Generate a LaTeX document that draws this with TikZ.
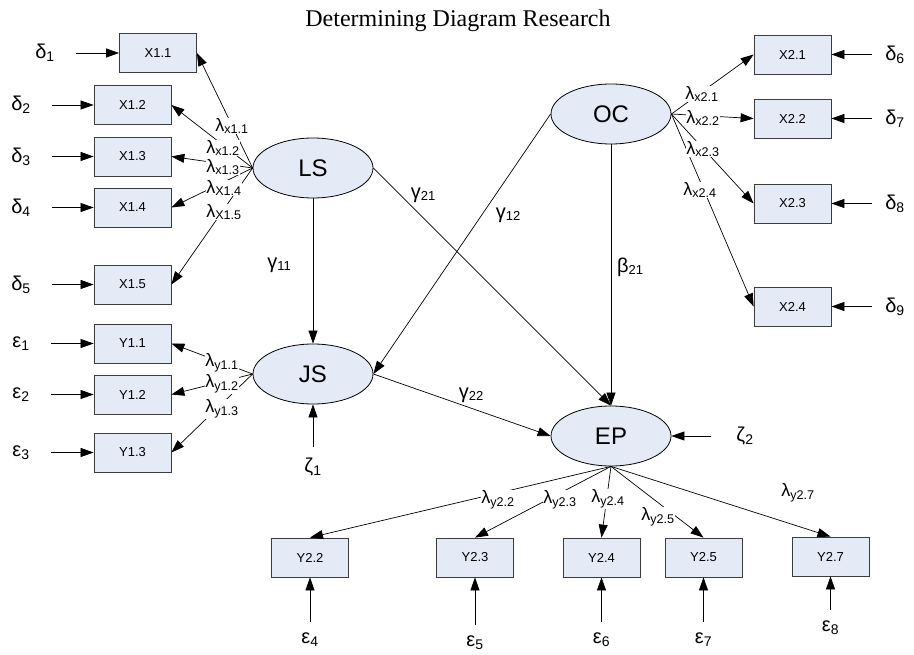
\documentclass[tikz,border=0pt]{standalone}
\usepackage{fontspec}
\setmainfont{Liberation Sans}
\newfontfamily\titlefont{Liberation Serif}
\usetikzlibrary{shapes.geometric,arrows.meta}
\definecolor{boxfill}{RGB}{228,234,246}
\definecolor{boxline}{RGB}{60,60,60}
\newcommand\sbx[1]{\textsubscript{#1}}
\newcommand\sbc[1]{\raisebox{-0.25ex}{\fontsize{13}{13}\selectfont #1}}
\begin{document}
\begin{tikzpicture}[x=1pt,y=-1pt,
  lat/.style={ellipse, draw=black, line width=0.8pt, fill=boxfill, minimum width=120pt, minimum height=60pt, inner sep=0pt, font=\fontsize{24}{24}\selectfont},
  obs/.style={rectangle, draw=boxline, line width=0.8pt, fill=boxfill, minimum width=77pt, minimum height=39pt, inner sep=0pt, font=\fontsize{13}{13}\selectfont},
  err/.style={font=\fontsize{20}{20}\selectfont, inner sep=1pt},
  lam/.style={font=\fontsize{18}{18}\selectfont, inner sep=0.3pt, fill=white},
  coef/.style={font=\fontsize{20}{20}\selectfont, inner sep=1pt},
  arr/.style={-{Triangle[length=13pt,width=9pt]}, line width=0.7pt},
  larr/.style={arr, shorten <=20pt},
  rarr/.style={arr, shorten <=12pt},
  barr/.style={arr, shorten <=10pt}]
\useasboundingbox (0,0) rectangle (914,655);

% title
\node[anchor=base, font=\titlefont\fontsize{24}{24}\selectfont, inner sep=0pt] (title) at (458,27) {Determining Diagram Research};

% latent variables
\node[lat] (LS) at (313,168) {LS};
\node[lat] (OC) at (611,114) {OC};
\node[lat] (JS) at (313,374) {JS};
\node[lat] (EP) at (611,436) {EP};

% observed (left)
\node[obs] (x11) at (158,53) {X1.1};
\node[obs] (x12) at (132.5,105) {X1.2};
\node[obs] (x13) at (132.5,156.5) {X1.3};
\node[obs] (x14) at (132.5,207.5) {X1.4};
\node[obs] (x15) at (132.5,284.5) {X1.5};
\node[obs] (y11) at (132.5,343.5) {Y1.1};
\node[obs] (y12) at (132.5,394.5) {Y1.2};
\node[obs] (y13) at (132.5,452.5) {Y1.3};

% observed (right)
\node[obs] (x21) at (792.5,54.5) {X2.1};
\node[obs] (x22) at (792.5,118.5) {X2.2};
\node[obs] (x23) at (792.5,203.5) {X2.3};
\node[obs] (x24) at (792.5,306.5) {X2.4};

% observed (bottom)
\node[obs] (y22) at (310,557.5) {Y2.2};
\node[obs] (y23) at (475,557.5) {Y2.3};
\node[obs] (y24) at (601.5,557.5) {Y2.4};
\node[obs] (y25) at (703.5,557.5) {Y2.5};
\node[obs] (y27) at (830.5,556.5) {Y2.7};

% error terms
\node[err] (d1) at (45,53) {δ\sbx{1}};
\node[err] (d2) at (21,105) {δ\sbx{2}};
\node[err] (d3) at (21,156.5) {δ\sbx{3}};
\node[err] (d4) at (21,207.5) {δ\sbx{4}};
\node[err] (d5) at (21,284.5) {δ\sbx{5}};
\node[err] (e1) at (21,343.5) {ε\sbx{1}};
\node[err] (e2) at (21,394.5) {ε\sbx{2}};
\node[err] (e3) at (21,452.5) {ε\sbx{3}};
\node[err] (d6) at (895,54.5) {δ\sbx{6}};
\node[err] (d7) at (895,118.5) {δ\sbx{7}};
\node[err] (d8) at (895,203.5) {δ\sbx{8}};
\node[err] (d9) at (895,306.5) {δ\sbx{9}};
\node[err] (e4) at (310,640) {ε\sbx{4}};
\node[err] (e5) at (475,643) {ε\sbx{5}};
\node[err] (e6) at (601.5,640) {ε\sbx{6}};
\node[err] (e7) at (703.5,640) {ε\sbx{7}};
\node[err] (e8) at (830.5,628) {ε\sbx{8}};
\node[err] (z1) at (313,467) {ζ\sbx{1}};
\node[err] (z2) at (745,436) {ζ\sbx{2}};

% error arrows
\foreach \a/\b in {d1/x11,d2/x12,d3/x13,d4/x14,d5/x15,e1/y11,e2/y12,e3/y13}
  \draw[larr] (\a) -- (\b);
\foreach \a/\b in {d6/x21,d7/x22,d8/x23,d9/x24}
  \draw[rarr] (\a) -- (\b);
\foreach \a/\b in {e4/y22,e5/y23,e6/y24,e7/y25,e8/y27,z1/JS}
  \draw[barr] (\a) -- (\b);
\draw[arr, shorten <=24pt] (z2) -- (EP);

% loadings
\foreach \b in {x11,x12,x13,x14,x15}
  \draw[arr] (LS.west) -- (\b.east);
\foreach \b in {y11,y12,y13}
  \draw[arr] (JS.west) -- (\b.east);
\foreach \b in {x21,x22,x23,x24}
  \draw[arr] (OC.east) -- (\b.west);
\foreach \b in {y22,y23,y24,y25,y27}
  \draw[arr] (EP.south) -- (\b.north);

% structural paths
\draw[arr] (LS.south) -- (JS.north);
\draw[arr] (LS.east) -- (EP.north);
\draw[arr] (OC.south) -- (EP.north);
\draw[arr] (OC.west) -- (JS.east);
\draw[arr] (JS.east) -- (EP.west);

% loading labels
\node[lam] (lx11) at (232,126) {λ\sbx{x1.1}};
\node[lam] (lx12) at (223,148) {λ\sbx{x1.2}};
\node[lam] (lx13) at (223,167) {λ\sbx{x1.3}};
\node[lam] (lx14) at (224,188) {λ\sbx{X1.4}};
\node[lam] (lx15) at (224,212) {λ\sbx{X1.5}};
\node[lam] (ly11) at (222,363) {λ\sbx{y1.1}};
\node[lam] (ly12) at (222,384) {λ\sbx{y1.2}};
\node[lam] (ly13) at (222,409) {λ\sbx{y1.3}};
\node[lam] (lx21) at (702,94) {λ\sbx{x2.1}};
\node[lam] (lx22) at (703,118) {λ\sbx{x2.2}};
\node[lam] (lx23) at (703,149) {λ\sbx{x2.3}};
\node[lam] (lx24) at (700,190) {λ\sbx{x2.4}};
\node[lam] (ly22) at (498,500) {λ\sbx{y2.2}};
\node[lam] (ly23) at (560,500) {λ\sbx{y2.3}};
\node[lam] (ly24) at (608,499) {λ\sbx{y2.4}};
\node[lam] (ly25) at (658,517) {λ\sbx{y2.5}};
\node[lam] (ly27) at (798,493) {λ\sbx{y2.7}};

% structural labels
\node[coef] (g11) at (279,265) {γ\sbc{11}};
\node[coef] (g21) at (423,195) {γ\sbc{21}};
\node[coef] (g12) at (508,215) {γ\sbc{12}};
\node[coef] (b21) at (630,267) {β\sbc{21}};
\node[coef] (g22) at (471,395) {γ\sbc{22}};
\end{tikzpicture}
\end{document}
